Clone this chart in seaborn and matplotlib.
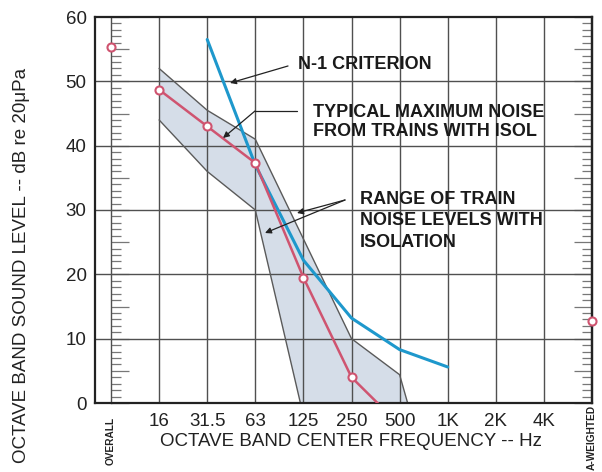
import numpy as np
import matplotlib
matplotlib.use("Agg")
import matplotlib.pyplot as plt
import matplotlib.transforms as mtransforms
import seaborn as sns
from matplotlib.ticker import MultipleLocator, NullFormatter

# 数据区
bands = ["OVERALL", "16", "31.5", "63", "125", "250", "500", "1K", "2K", "4K", "A-WEIGHTED"]

# 典型最大噪声（带隔振）
typ_bands = ["16", "31.5", "63", "125", "250", "500"]
typ_levels = [48.7, 43.0, 37.3, 19.5, 4.0, -3.4]
overall_level = 55.4
aweighted_level = 12.8

# N-1 准则
n1_bands = ["31.5", "63", "125", "250", "500", "1K"]
n1_levels = [56.5, 37.0, 22.2, 13.2, 8.3, 5.6]

# 噪声范围（上下边界）
upper_bands = ["16", "31.5", "63", "125", "250", "500", "1K"]
upper_levels = [52.0, 45.5, 41.0, 25.5, 10.0, 4.4, -22.0]
lower_bands = ["16", "31.5", "63", "125"]
lower_levels = [44.0, 36.0, 30.0, -2.0]

pos = {b: i for i, b in enumerate(bands)}

red = "#cf5470"
blue = "#1e98cc"
band_fill = "#d5dde8"
grid_c = "#505050"

sns.set_theme(style="white")
plt.rcParams["font.family"] = ["Liberation Sans", "DejaVu Sans"]

fig = plt.figure(figsize=(6.02, 4.72), dpi=100)
ax = fig.add_axes([95 / 602, 1 - 403 / 472, (592 - 95) / 602, (403 - 17) / 472])

# 范围带
ux = [pos[b] for b in upper_bands]
lx = [pos[b] for b in lower_bands]
ax.fill(ux + lx[::-1], upper_levels + lower_levels[::-1], color=band_fill, zorder=1, lw=0)
ax.plot(ux, upper_levels, color="#5a5a5a", lw=1.0, zorder=1.8)
ax.plot(lx, lower_levels, color="#5a5a5a", lw=1.0, zorder=1.8)

# N-1 线
sns.lineplot(x=[pos[b] for b in n1_bands], y=n1_levels, ax=ax, color=blue, lw=2.2,
             sort=False, zorder=2.5)
# 典型最大噪声
mk = dict(marker="o", markersize=5.8, markerfacecolor="white", markeredgecolor=red,
          markeredgewidth=1.5)
sns.lineplot(x=[pos[b] for b in typ_bands], y=typ_levels, ax=ax, color=red, lw=1.8,
             sort=False, zorder=3, **mk)
ax.plot([pos["OVERALL"], pos["A-WEIGHTED"]], [overall_level, aweighted_level], ls="none",
        zorder=4, clip_on=False, **mk)

ax.set_xlim(-0.333, 10.0)
ax.set_ylim(0, 60)
mid = bands[1:-1]
ax.set_xticks([pos[b] for b in mid], mid)
ax.set_yticks(range(0, 61, 10))
ax.tick_params(axis="both", length=0, labelsize=13.5, colors="#222222")
ax.tick_params(axis="x", pad=7)
ax.tick_params(axis="y", pad=6)

# 两端竖排标签
trans = mtransforms.blended_transform_factory(ax.transData, fig.transFigure)
ax.text(pos["OVERALL"], 1 - 417 / 472, "OVERALL", transform=trans, rotation=90,
        fontsize=7.3, fontweight="bold", color="#222222", ha="center", va="top")
ax.text(pos["A-WEIGHTED"], 1 - 405 / 472, "A-WEIGHTED", transform=trans, rotation=90,
        fontsize=7.3, fontweight="bold", color="#222222", ha="center", va="top")

# 网格
ax.set_axisbelow("line")
for i in range(1, 10):
    ax.axvline(i, color=grid_c, lw=1.0, zorder=1.5)
for v in range(10, 60, 10):
    ax.axhline(v, color=grid_c, lw=1.0, zorder=1.5)
for s in ax.spines.values():
    s.set_color("#222222")
    s.set_linewidth(1.6)

# 左右刻度尺
x0 = (0 + 0.333) / 10.333
rl = ax.secondary_yaxis(x0)
rr = ax.secondary_yaxis(1.0)
for r, side in ((rl, "left"), (rr, "right")):
    r.yaxis.set_major_locator(MultipleLocator(5))
    r.yaxis.set_minor_locator(MultipleLocator(1))
    r.yaxis.set_major_formatter(NullFormatter())
    r.tick_params(which="major", direction="in", length=13, width=0.9, color="#777777")
    r.tick_params(which="minor", direction="in", length=7, width=0.9, color="#777777")
    r.spines[side].set_color(grid_c if side == "left" else "#222222")
    r.spines[side].set_linewidth(1.0 if side == "left" else 1.6)

# 标注
def px(x, y):
    return ((x - 111) / 48.1, (403 - y) / 6.433)

tk = dict(fontsize=13, fontweight="bold", color="#1a1a1a", va="center", ha="left")
ax.text(*px(298, 65), "N-1 CRITERION", **tk)
ax.text(*px(313, 122), "TYPICAL MAXIMUM NOISE\nFROM TRAINS WITH ISOL", linespacing=1.2, **tk)
ax.text(*px(360, 221), "RANGE OF TRAIN\nNOISE LEVELS WITH\nISOLATION", linespacing=1.35, **tk)

ap = dict(arrowstyle="-|>", color="#222222", lw=0.9, mutation_scale=9, shrinkA=0, shrinkB=0)
ax.annotate("", xy=px(230, 83), xytext=px(288, 66), arrowprops=ap)
ax.plot(*zip(px(297, 111), px(255, 111)), color="#222222", lw=0.9)
ax.annotate("", xy=px(223, 138), xytext=px(255, 111), arrowprops=ap)
ax.annotate("", xy=px(297, 213), xytext=px(345, 200), arrowprops=ap)
ax.annotate("", xy=px(265, 233), xytext=px(345, 200), arrowprops=ap)

fig.text(351 / 602, 1 - 442 / 472, "OCTAVE BAND CENTER FREQUENCY -- Hz", fontsize=13.5,
         color="#222222", ha="center", va="center")
fig.text(22 / 602, 1 - 265 / 472, "OCTAVE BAND SOUND LEVEL -- dB re 20\u03bcPa", rotation=90,
         fontsize=13.5, color="#222222", ha="center", va="center")

fig.savefig("out.png", dpi=100)
